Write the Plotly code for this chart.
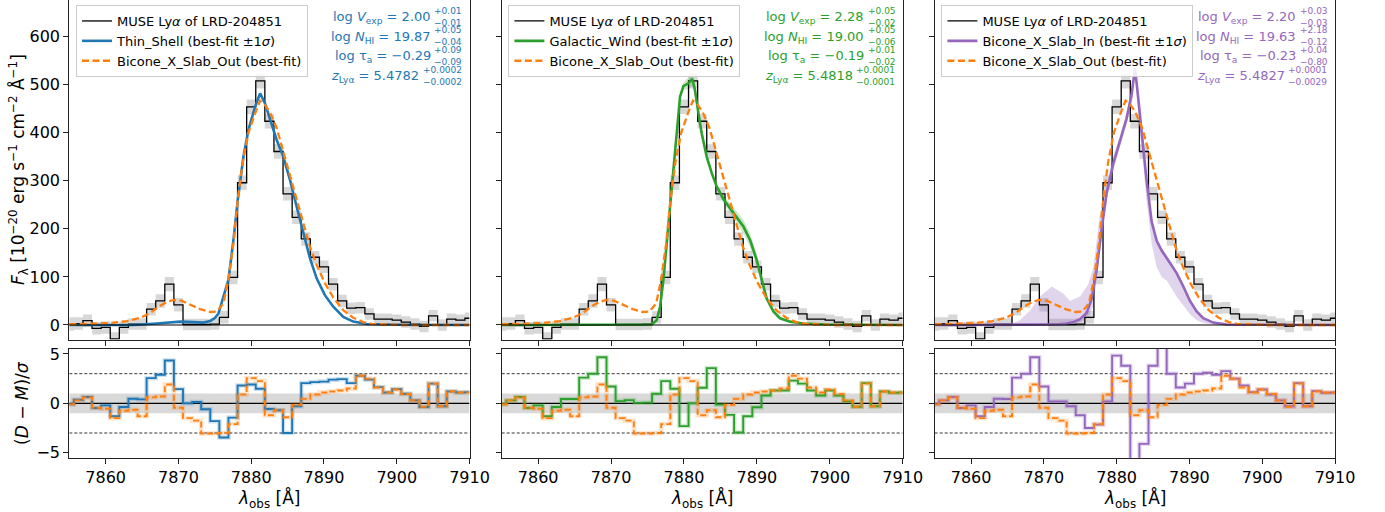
import plotly.graph_objects as go

W, H = 1385, 512

# ---------------- data ----------------
wave = [7855.0, 7856.25, 7857.5, 7858.75, 7860.0, 7861.25, 7862.5, 7863.75, 7865.0, 7866.25,
        7867.5, 7868.75, 7870.0, 7871.25, 7872.5, 7873.75, 7875.0, 7876.25, 7877.5, 7878.75,
        7880.0, 7881.25, 7882.5, 7883.75, 7885.0, 7886.25, 7887.5, 7888.75, 7890.0, 7891.25,
        7892.5, 7893.75, 7895.0, 7896.25, 7897.5, 7898.75, 7900.0, 7901.25, 7902.5, 7903.75,
        7905.0, 7906.25, 7907.5, 7908.75, 7910.0]
flux = [2, 3, 9, -7, -5, -29, -5, 2, 2, 33,
        50, 85, 42, 1, 1, 1, 2, 16, 99, 296,
        454, 508, 424, 361, 273, 224, 179, 141, 121, 85,
        50, 35, 36, 23, 12, 12, 10, 6, 2, -3,
        19, 0, 12, 10, 14]
flux_err = [14, 13, 13, 13, 13, 14, 13, 12, 12, 13,
            14, 15, 14, 12, 12, 12, 12, 13, 14, 15,
            15, 16, 15, 15, 14, 14, 14, 13, 13, 13,
            13, 12, 12, 12, 12, 12, 12, 12, 12, 12,
            12, 12, 12, 12, 12]

# Bicone_X_Slab_Out best fit (same in all panels)
out_x = [7855.0, 7858.35, 7860.64, 7862.93, 7864.76, 7866.13, 7867.27, 7868.41, 7869.33, 7870.47,
         7871.61, 7872.99, 7874.36, 7875.27, 7876.19, 7876.87, 7877.56, 7878.15, 7878.84, 7879.62,
         7880.53, 7881.22, 7881.90, 7882.59, 7883.50, 7884.42, 7885.33, 7886.25, 7887.16, 7888.07,
         7888.99, 7890.13, 7891.28, 7892.65, 7894.02, 7895.39, 7896.76, 7900.42, 7910.0]
out_y = [1, 2, 4, 8, 15, 25, 38, 48, 52, 50,
         42, 33, 27, 28, 45, 95, 170, 260, 340, 400,
         440, 467, 458, 442, 410, 360, 310, 258, 208, 163,
         125, 87, 57, 31, 15, 6, 2, 0, 0]

# Thin_Shell
shell_x = [7855.0, 7863.8, 7867.04, 7868.87, 7870.24, 7872.07, 7873.44, 7874.36, 7875.04, 7875.50,
           7876.87, 7877.56, 7878.15, 7878.93, 7879.62, 7880.53, 7881.22, 7881.90, 7882.59, 7883.50,
           7884.42, 7885.33, 7886.25, 7887.16, 7888.07, 7888.99, 7890.13, 7891.28, 7892.65, 7894.02,
           7895.85, 7900.0, 7910.0]
shell_y = [0, 0, 3, 5, 7, 6, 5, 8, 15, 24,
           94, 177, 260, 350, 406, 454, 482, 461, 427, 385,
           350, 302, 246, 191, 139, 97, 62, 38, 17, 7,
           2, 0.5, 0]

# Galactic_Wind
wind_x = [7855.0, 7874.89, 7875.58, 7876.26, 7876.72, 7877.18, 7877.63, 7878.09, 7878.55, 7879.0,
          7879.46, 7879.92, 7880.61, 7881.15, 7881.51, 7881.98, 7882.43, 7883.12, 7883.81, 7884.49,
          7885.41, 7886.32, 7887.24, 7888.15, 7889.06, 7889.98, 7890.67, 7891.35, 7892.27, 7893.18,
          7894.55, 7896.38, 7899.58, 7910.0]
wind_y = [0, 0, 1, 10, 38, 94, 170, 246, 330, 413,
          475, 497, 503, 512, 489, 441, 399, 350, 316, 288,
          262, 243, 225, 205, 177, 135, 94, 55, 28, 14,
          7, 3, 1, 0]
wind_err = [0, 0, 0, 1, 2, 3, 4, 5, 6, 6,
            6, 8, 12, 14, 12, 10, 8, 6, 5, 6,
            8, 10, 12, 14, 14, 12, 9, 6, 4, 2,
            1, 0, 0, 0]

# Bicone_X_Slab_In
bin_x = [7855.0, 7870.38, 7871.76, 7873.13, 7874.05, 7874.96, 7875.88, 7876.57, 7877.25, 7877.94,
         7878.63, 7879.54, 7880.46, 7881.37, 7882.06, 7882.52, 7882.98, 7883.44, 7884.12, 7884.81,
         7885.50, 7886.18, 7886.87, 7887.56, 7888.24, 7889.16, 7890.07, 7890.99, 7891.90, 7893.28,
         7895.11, 7910.0]
bin_y = [0, 0, 1, 3, 6, 12, 25, 55, 115, 200,
         275, 336, 385, 430, 480, 535, 470, 400, 300, 215,
         175, 155, 140, 125, 108, 80, 50, 28, 14, 5,
         1, 0]
bin_band_x = [7855.0, 7865.3, 7866.7, 7868.1, 7869.5, 7871.1, 7872.7, 7873.6, 7875.0, 7876.1,
              7876.8, 7877.7, 7878.6, 7879.5, 7880.5, 7881.4, 7882.1, 7882.5, 7883.0, 7883.4,
              7884.1, 7884.8, 7885.5, 7886.2, 7886.9, 7887.6, 7888.2, 7889.2, 7890.1, 7891.0,
              7891.9, 7893.3, 7895.1, 7910.0]
bin_band_lo = [0, 0, 0, 0, 0, 0, 0, 1, 5, 15,
               40, 150, 260, 320, 370, 420, 460, 520, 440, 370,
               260, 170, 120, 100, 92, 75, 60, 40, 22, 10,
               4, 1, 0, 0]
bin_band_hi = [0, 0, 10, 30, 60, 80, 65, 50, 60, 85,
               120, 230, 290, 350, 395, 445, 495, 540, 480, 410,
               310, 225, 180, 160, 145, 130, 112, 85, 55, 32,
               16, 6, 1, 0]

# residuals (D-M)/sigma per bin
out_res = [-0.1, 0.3, 0.6, -0.45, -0.55, -1.5, -0.75, -0.65, -1.3, 0.6,
           0.7, 1.9, -0.45, -1.5, -1.75, -3.05, -3.05, -3.0, -2.1, 0.9,
           2.55, 2.25, -1.2, -0.7, -1.4, -0.15, 0.45, 0.9, 1.1, 1.2,
           1.3, 1.5, 2.8, 2.5, 1.6, 1.1, 1.4, 0.95, 0.3, -0.35,
           2.0, -0.3, 1.2, 1.1, 1.1]
shell_res = [-0.1, 0.37, 0.64, -0.47, -0.2, -1.3, -0.37, 0.47, 0.4, 2.55,
             2.9, 4.33, 1.44, 0.0, 0.13, -0.6, -1.8, -3.46, -1.44, 1.8,
             1.9, 1.48, -0.57, -0.7, -3.0, -0.3, 2.05, 2.15, 2.2, 2.4,
             2.45, 2.05, 2.8, 2.4, 1.64, 1.1, 1.44, 0.97, 0.3, -0.37,
             2.0, -0.3, 1.2, 1.1, 1.14]
wind_res = [-0.1, 0.3, 0.64, -0.47, -0.2, -1.3, -0.37, 0.44, 0.44, 2.6,
            3.0, 4.66, 1.7, 0.23, 0.33, 0.05, 0.07, 0.97, 2.25, 1.48,
            -2.3, 0.0, 1.58, 3.56, -0.13, -1.17, -2.95, -1.3, -0.4, 0.8,
            1.3, 1.3, 2.3, 2.0, 1.3, 0.8, 1.3, 0.8, 0.2, -0.35,
            2.05, -0.3, 1.2, 1.07, 1.1]
bin_res = [-0.1, 0.3, 0.64, -0.47, -0.2, -1.3, -0.37, 0.47, 0.44, 2.6,
           3.0, 4.66, 1.7, 0.2, 0.2, -0.3, -1.2, -2.5, -2.15, 0.2,
           4.83, 3.8, -9.0, -4.1, 3.8, 9.0, 3.0, 1.6, 2.0, 3.0,
           3.1, 2.9, 3.26, 2.5, 1.8, 1.14, 1.4, 0.9, 0.3, -0.3,
           2.05, -0.3, 1.24, 1.07, 1.1]

model_names = ["Thin_Shell", "Galactic_Wind", "Bicone_X_Slab_In"]
model_colors = ["#1f77b4", "#2ca02c", "#9467bd"]
model_fill = ["rgba(31,119,180,0.25)", "rgba(44,160,44,0.25)", "rgba(148,103,189,0.28)"]

# fitted parameters: (value, +err, -err)
logV = [("2.00", "+0.01", "−0.01"), ("2.28", "+0.05", "−0.02"), ("2.20", "+0.03", "−0.03")]
logN = [("19.87", "+0.05", "−0.04"), ("19.00", "+0.05", "−0.06"), ("19.63", "+2.18", "−0.12")]
logtau = [("−0.29", "+0.09", "−0.09"), ("−0.19", "+0.01", "−0.02"), ("−0.23", "+0.04", "−0.80")]
zlya = [("5.4782", "+0.0002", "−0.0002"), ("5.4818", "+0.0001", "−0.0001"), ("5.4827", "+0.0001", "−0.0029")]

xticks = [7860, 7870, 7880, 7890, 7900, 7910]
yticks_top = [0, 100, 200, 300, 400, 500, 600]
yticks_res = [-5, 0, 5]

# ---------------- layout geometry (pixels) ----------------
panel_px = [(69.3, 469.5), (501.7, 902.7), (934.7, 1335.0)]
top_px = (0.0, 339.5)
res_px = (349.0, 457.7)
XR = [7855, 7910]
YR_TOP = [-30.2, 676.3]
YR_RES = [-5.5, 5.5]

def fx(p):
    return p / W

def fy(p):
    return 1 - p / H

fig = go.Figure()

model_x = [shell_x, wind_x, bin_x]
model_y = [shell_y, wind_y, bin_y]
model_res = [shell_res, wind_res, bin_res]
legend_names = ["legend", "legend2", "legend3"]

GREY = "rgba(160,160,160,0.42)"
FONT = "DejaVu Sans"

for i in range(3):
    xt = "x" if i == 0 else "x%d" % (2 * i + 1)
    yt = "y" if i == 0 else "y%d" % (2 * i + 1)
    xr = "x%d" % (2 * i + 2)
    yr = "y%d" % (2 * i + 2)
    lg = legend_names[i]
    col = model_colors[i]

    lo = [f - e for f, e in zip(flux, flux_err)]
    hi = [f + e for f, e in zip(flux, flux_err)]
    fig.add_trace(go.Scatter(x=wave, y=lo, xaxis=xt, yaxis=yt, mode="lines", line_shape="hvh",
                             line=dict(width=0), showlegend=False, hoverinfo="skip"))
    fig.add_trace(go.Scatter(x=wave, y=hi, xaxis=xt, yaxis=yt, mode="lines", line_shape="hvh",
                             line=dict(width=0), fill="tonexty", fillcolor=GREY,
                             showlegend=False, hoverinfo="skip"))

    # model bands
    if i == 1:
        blo = [v - e for v, e in zip(wind_y, wind_err)]
        bhi = [v + e for v, e in zip(wind_y, wind_err)]
        bx = wind_x
    elif i == 2:
        blo, bhi, bx = bin_band_lo, bin_band_hi, bin_band_x
    else:
        blo = bhi = bx = None
    if bx is not None:
        fig.add_trace(go.Scatter(x=bx, y=blo, xaxis=xt, yaxis=yt, mode="lines",
                                 line=dict(width=0), showlegend=False, hoverinfo="skip"))
        fig.add_trace(go.Scatter(x=bx, y=bhi, xaxis=xt, yaxis=yt, mode="lines",
                                 line=dict(width=0), fill="tonexty", fillcolor=model_fill[i],
                                 showlegend=False, hoverinfo="skip"))

    fig.add_trace(go.Scatter(x=wave, y=flux, xaxis=xt, yaxis=yt, mode="lines", line_shape="hvh",
                             line=dict(color="black", width=1.3),
                             name="MUSE Ly<i>α</i> of LRD-204851", legend=lg))
    fig.add_trace(go.Scatter(x=model_x[i], y=model_y[i], xaxis=xt, yaxis=yt, mode="lines",
                             line=dict(color=col, width=2.6),
                             name="%s (best-fit ±1<i>σ</i>)" % model_names[i], legend=lg))
    fig.add_trace(go.Scatter(x=out_x, y=out_y, xaxis=xt, yaxis=yt, mode="lines",
                             line=dict(color="#ff7f0e", width=2.3, dash="7px,3.5px"),
                             name="Bicone_X_Slab_Out (best-fit)", legend=lg))

    # residuals
    for res, c, dash in [(model_res[i], col, None), (out_res, "#ff7f0e", "6px,3px")]:
        fig.add_trace(go.Scatter(x=wave, y=res, xaxis=xr, yaxis=yr, mode="lines", line_shape="hvh",
                                 line=dict(color=c, width=4.5), opacity=0.22,
                                 showlegend=False, hoverinfo="skip"))
        ln = dict(color=c, width=1.9)
        if dash:
            ln["dash"] = dash
        fig.add_trace(go.Scatter(x=wave, y=res, xaxis=xr, yaxis=yr, mode="lines", line_shape="hvh",
                                 line=ln, showlegend=False, hoverinfo="skip"))

    # shapes
    fig.add_shape(type="line", xref=xt, yref=yt, x0=XR[0], x1=XR[1], y0=0, y1=0,
                  line=dict(color="black", width=1), layer="above")
    fig.add_shape(type="rect", xref=xr, yref=yr, x0=XR[0], x1=XR[1], y0=-1, y1=1,
                  fillcolor="#d9d9d9", line=dict(width=0), layer="below")
    fig.add_shape(type="line", xref=xr, yref=yr, x0=XR[0], x1=XR[1], y0=0, y1=0,
                  line=dict(color="black", width=1.1), layer="below")
    for yv in (-3, 3):
        fig.add_shape(type="line", xref=xr, yref=yr, x0=XR[0], x1=XR[1], y0=yv, y1=yv,
                      line=dict(color="black", width=0.8, dash="3px,2px"), layer="below")

    axis_common = dict(showline=True, linecolor="#222222", linewidth=1.2, ticks="outside",
                       ticklen=5, tickwidth=1.2, tickcolor="#222222", showgrid=False,
                       zeroline=False, automargin=False,
                       tickfont=dict(family=FONT, size=16, color="black"))
    xd = [fx(panel_px[i][0]), fx(panel_px[i][1])]
    kx_t = "xaxis" if i == 0 else "xaxis%d" % (2 * i + 1)
    ky_t = "yaxis" if i == 0 else "yaxis%d" % (2 * i + 1)
    kx_r = "xaxis%d" % (2 * i + 2)
    ky_r = "yaxis%d" % (2 * i + 2)
    fig.update_layout(**{
        kx_t: dict(axis_common, domain=xd, range=XR, tickvals=xticks, showticklabels=False,
                   mirror=False, anchor=yt),
        ky_t: dict(axis_common, domain=[fy(top_px[1]), fy(top_px[0])], range=YR_TOP,
                   tickvals=yticks_top, showticklabels=(i == 0), mirror=True, anchor=xt),
        kx_r: dict(axis_common, domain=xd, range=XR, tickvals=xticks, showticklabels=True,
                   mirror=True, anchor=yr),
        ky_r: dict(axis_common, domain=[fy(res_px[1]), fy(res_px[0])], range=YR_RES,
                   tickvals=yticks_res, showticklabels=(i == 0), mirror=True, anchor=xr),
    })

    # legend
    fig.update_layout(**{lg: dict(x=fx(panel_px[i][0] + 6.7), y=fy(5), xanchor="left", yanchor="top",
                                  bgcolor="rgba(255,255,255,0.85)", bordercolor="#cccccc",
                                  borderwidth=1, font=dict(family=FONT, size=13, color="black"),
                                  itemwidth=30, traceorder="normal")})

    # parameter annotations
    em = {"+": 0.838, "−": 0.838, ".": 0.318}
    sfs = 9.0
    right = panel_px[i][1] - 8.5
    rows = [("log <i>V</i><sub>exp</sub> = ", logV[i]),
            ("log <i>N</i><sub>HI</sub> = ", logN[i]),
            ("log τ<sub>a</sub> = ", logtau[i]),
            ("<i>z</i><sub>Lyα</sub> = ", zlya[i])]
    for r, (lab, (val, up, dn)) in enumerate(rows):
        yc = 16 + 19.7 * r
        wsc = max(sum(em.get(ch, 0.636) for ch in up), sum(em.get(ch, 0.636) for ch in dn)) * sfs
        xs = right - wsc
        fig.add_annotation(x=fx(xs - 1.5), y=fy(yc + 1.5), xref="paper", yref="paper", text=lab + val,
                           showarrow=False, xanchor="right", yanchor="middle", borderpad=0,
                           font=dict(family=FONT, size=13, color=col))
        fig.add_annotation(x=fx(xs), y=fy(yc + 0.5), xref="paper", yref="paper",
                           text=up + "<br>" + dn, align="left",
                           showarrow=False, xanchor="left", yanchor="middle", borderpad=0,
                           font=dict(family=FONT, size=sfs, color=col))

    # x title
    fig.add_annotation(x=fx((panel_px[i][0] + panel_px[i][1]) / 2), y=fy(499), xref="paper", yref="paper",
                       text="<i>λ</i><sub>obs</sub> [Å]", showarrow=False, xanchor="center",
                       yanchor="middle", borderpad=0, font=dict(family=FONT, size=17, color="black"))

# y titles
fig.add_annotation(x=fx(18), y=fy(170), xref="paper", yref="paper", textangle=-90,
                   text="<i>F</i><sub>λ</sub> [10<sup>−20</sup> erg s<sup>−1</sup> cm<sup>−2</sup> Å<sup>−1</sup>]",
                   showarrow=False, xanchor="center", yanchor="middle",
                   font=dict(family=FONT, size=17, color="black"))
fig.add_annotation(x=fx(22), y=fy(403), xref="paper", yref="paper", textangle=-90,
                   text="(<i>D</i> − <i>M</i>)/<i>σ</i>",
                   showarrow=False, xanchor="center", yanchor="middle",
                   font=dict(family=FONT, size=17, color="black"))

fig.update_layout(width=W, height=H,
                  margin=dict(l=0, r=0, t=0, b=0, pad=0, autoexpand=False),
                  paper_bgcolor="white", plot_bgcolor="white", showlegend=True,
                  font=dict(family=FONT))

fig.write_html("out.html", config={"displayModeBar": False},
               post_script="document.body.style.margin='0px';document.body.style.padding='0px';"
                           "document.documentElement.style.overflow='hidden';")
